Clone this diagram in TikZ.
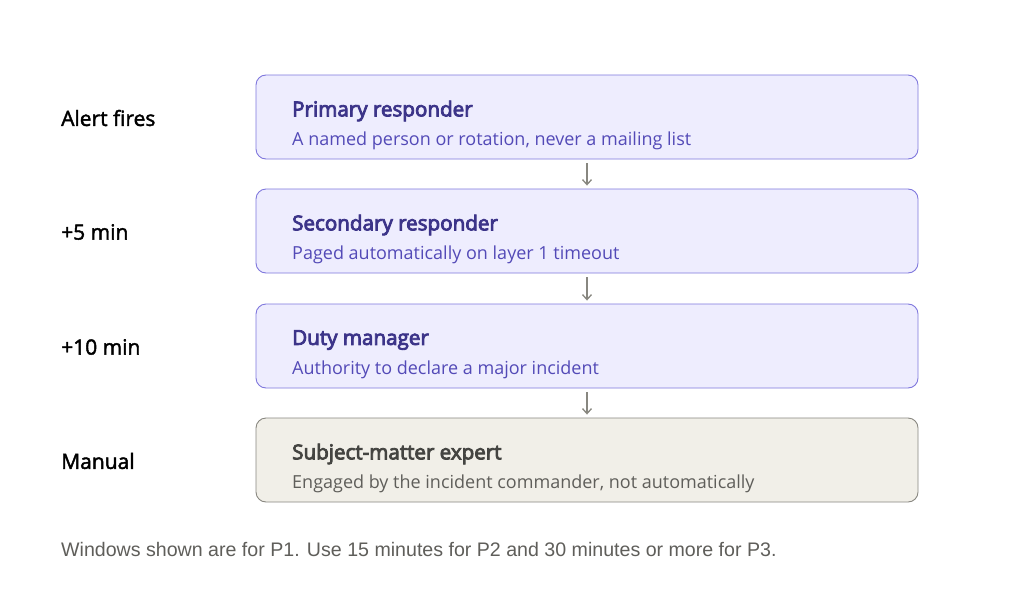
\documentclass[tikz,border=0pt]{standalone}
\usepackage{fontspec}
\setmainfont{Open Sans}
\newfontfamily\medfont{Open Sans}[FakeBold=4]
\newfontfamily\lblfont{Open Sans}[FakeBold=2]
\newfontfamily\notefont{Liberation Sans}
\usetikzlibrary{arrows.meta}
\definecolor{pfill}{HTML}{EEEDFE}
\definecolor{pdraw}{HTML}{7F77DD}
\definecolor{ptitle}{HTML}{3C3489}
\definecolor{psub}{HTML}{534AB7}
\definecolor{gfill}{HTML}{F1EFE8}
\definecolor{gdraw}{HTML}{888780}
\definecolor{gtitle}{HTML}{444441}
\definecolor{gsub}{HTML}{5F5E5A}
\definecolor{arr}{HTML}{888780}
\begin{document}
\begin{tikzpicture}[x=1pt,y=-1pt,
  box/.style={rounded corners=10pt, minimum width=662pt, minimum height=84pt, inner sep=0pt, line width=0.9pt},
  pbox/.style={box, fill=pfill, draw=pdraw},
  gbox/.style={box, fill=gfill, draw=gdraw},
  ttl/.style={anchor=west, inner sep=0pt, font=\fontsize{20.6}{24}\medfont},
  sub/.style={anchor=west, inner sep=0pt, font=\fontsize{18}{20}\selectfont},
  lbl/.style={anchor=west, inner sep=0pt, font=\fontsize{21}{24}\lblfont, text=black},
  flow/.style={draw=arr, line width=1.3pt, -{Straight Barb[length=5pt,width=9pt]}, shorten <=4pt, shorten >=3pt}
]
\useasboundingbox (0,0) rectangle (1024,602);
\fill[white] (0,0) rectangle (1024,602);

\node[pbox] (b1) at (587,117) {};
\node[pbox] (b2) at (587,231) {};
\node[pbox] (b3) at (587,346) {};
\node[gbox] (b4) at (587,460) {};

\node[ttl, text=ptitle] (t1) at (292,111) {Primary responder};
\node[sub, text=psub] (s1) at (292,141) {A named person or rotation, never a mailing list};
\node[ttl, text=ptitle] (t2) at (292,225) {Secondary responder};
\node[sub, text=psub] (s2) at (292,255) {Paged automatically on layer 1 timeout};
\node[ttl, text=ptitle] (t3) at (292,340) {Duty manager};
\node[sub, text=psub] (s3) at (292,370) {Authority to declare a major incident};
\node[ttl, text=gtitle] (t4) at (292,454) {Subject-matter expert};
\node[sub, text=gsub] (s4) at (292,484) {Engaged by the incident commander, not automatically};

\node[lbl] (l1) at (61,118) {Alert fires};
\node[lbl] (l2) at (61,232) {+5 min};
\node[lbl] (l3) at (61,347) {+10 min};
\node[lbl] (l4) at (61,461) {Manual};

\draw[flow] (b1.south) -- (b2.north);
\draw[flow] (b2.south) -- (b3.north);
\draw[flow] (b3.south) -- (b4.north);

\node[anchor=west, inner sep=0pt, font=\fontsize{19.6}{22}\notefont, text=gsub] (note) at (61,549) {Windows shown are for P1. Use 15 minutes for P2 and 30 minutes or more for P3.};
\end{tikzpicture}
\end{document}
